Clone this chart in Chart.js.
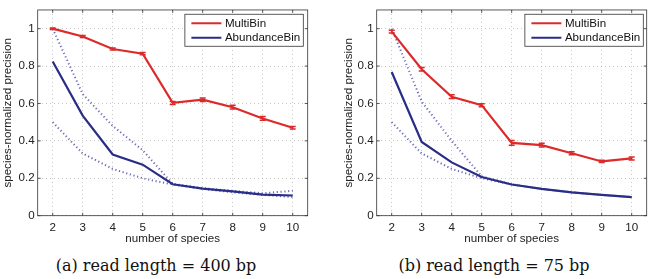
<!DOCTYPE html>
<html>
<head>
<meta charset="utf-8">
<script src="https://cdn.jsdelivr.net/npm/chart.js@4.4.1/dist/chart.umd.min.js"></script>
<style>
  html, body { margin: 0; padding: 0; background: #fff; }
  body { width: 650px; height: 279px; position: relative; overflow: hidden; }
  .panel { position: absolute; top: 0; width: 325px; height: 250px; }
  .caption { position: absolute; top: 256px; width: 260px; text-align: center;
             font-family: "DejaVu Serif", "Liberation Serif", serif; font-size: 16px; color: #111; }
</style>
</head>
<body>
<div class="panel" style="left:0"><canvas id="chartA" width="325" height="250"></canvas></div>
<div class="panel" style="left:325px"><canvas id="chartB" width="325" height="250"></canvas></div>
<div class="caption" style="left:26px">(a) read length = 400 bp</div>
<div class="caption" style="left:364px">(b) read length = 75 bp</div>
<script>
// ---------- data ----------
const speciesCounts = ['2','3','4','5','6','7','8','9','10'];
const yTicks = [0, 0.2, 0.4, 0.6, 0.8, 1];
const yTickLabels = ['0', '0.2', '0.4', '0.6', '0.8', '1'];
const seriesNames = ['MultiBin', 'AbundanceBin'];

// (a) read length = 400 bp
const multiBinA = [1.0, 0.958, 0.891, 0.866, 0.603, 0.62, 0.58, 0.52, 0.47];
const multiBinErrA = [0.004, 0.005, 0.005, 0.006, 0.008, 0.009, 0.01, 0.01, 0.007];
const abundanceBinA = [0.824, 0.535, 0.327, 0.273, 0.168, 0.145, 0.13, 0.113, 0.108];
const upperBoundA = [1.0, 0.65, 0.48, 0.35, 0.17, 0.148, 0.133, 0.12, 0.133];
const lowerBoundA = [0.5, 0.333, 0.25, 0.2, 0.167, 0.143, 0.125, 0.111, 0.1];

// (b) read length = 75 bp
const multiBinB = [0.984, 0.783, 0.636, 0.591, 0.389, 0.377, 0.334, 0.29, 0.306];
const multiBinErrB = [0.007, 0.01, 0.01, 0.008, 0.013, 0.01, 0.008, 0.006, 0.008];
const abundanceBinB = [0.768, 0.394, 0.285, 0.207, 0.167, 0.143, 0.125, 0.111, 0.099];
const upperBoundB = [1.0, 0.61, 0.40, 0.21, 0.168, 0.143, 0.125, 0.111, 0.1];
const lowerBoundB = [0.5, 0.333, 0.25, 0.2, 0.167, 0.143, 0.125, 0.111, 0.1];

// ---------- styles ----------
const RED = '#dc2a2a';
const NAVY = '#2a2d85';
const DOTTED = 'rgba(70,72,170,0.8)';
const SANS = '"Liberation Sans", Arial, Helvetica, sans-serif';

// plot frame, inward ticks and error bars
const framePlugin = {
  id: 'frame',
  afterDatasetsDraw(chart) {
    const {ctx, chartArea: a, scales} = chart;
    ctx.save();
    // error bars for datasets with errors
    chart.data.datasets.forEach((ds, i) => {
      if (!ds.errors) return;
      ctx.strokeStyle = ds.borderColor;
      ctx.lineWidth = 1.5;
      ds.data.forEach((v, j) => {
        const x = scales.x.getPixelForValue(j);
        const y1 = scales.y.getPixelForValue(v - ds.errors[j]);
        const y2 = scales.y.getPixelForValue(v + ds.errors[j]);
        ctx.beginPath();
        ctx.moveTo(x, y1); ctx.lineTo(x, y2);
        ctx.moveTo(x - 3, y1); ctx.lineTo(x + 3, y1);
        ctx.moveTo(x - 3, y2); ctx.lineTo(x + 3, y2);
        ctx.stroke();
      });
    });
    ctx.strokeStyle = '#333';
    ctx.lineWidth = 0.8;
    ctx.strokeRect(a.left, a.top, a.right - a.left, a.bottom - a.top);
    ctx.beginPath();
    scales.x.ticks.forEach((t, j) => {
      const x = scales.x.getPixelForTick(j);
      ctx.moveTo(x, a.bottom); ctx.lineTo(x, a.bottom - 3);
      ctx.moveTo(x, a.top); ctx.lineTo(x, a.top + 3);
    });
    scales.y.ticks.forEach((t, j) => {
      const y = scales.y.getPixelForTick(j);
      ctx.moveTo(a.left, y); ctx.lineTo(a.left + 3, y);
      ctx.moveTo(a.right, y); ctx.lineTo(a.right - 3, y);
    });
    ctx.stroke();
    ctx.restore();
  }
};

// boxed legend inside the plot, top-right
const boxLegendPlugin = {
  id: 'boxLegend',
  afterDraw(chart, args, opts) {
    const {ctx, chartArea: a} = chart;
    const items = chart.data.datasets.filter(d => d.inLegend);
    ctx.save();
    ctx.font = '11.6px ' + SANS;
    const textW = Math.max(...items.map(d => ctx.measureText(d.label).width));
    const padL = 6.5, lineLen = 30, gap = 3.5, padR = 3;
    const rowH = 14.5;
    const w = padL + lineLen + gap + textW + padR;
    const h = 32;
    const x = a.right - opts.inset - w;
    const y = a.top + 4.3;
    ctx.fillStyle = '#fff';
    ctx.fillRect(x, y, w, h);
    ctx.strokeStyle = '#333';
    ctx.lineWidth = 0.8;
    ctx.strokeRect(x, y, w, h);
    items.forEach((d, i) => {
      const cy = y + 9 + i * rowH;
      ctx.strokeStyle = d.borderColor;
      ctx.lineWidth = 2;
      ctx.beginPath();
      ctx.moveTo(x + padL, cy); ctx.lineTo(x + padL + lineLen, cy);
      ctx.stroke();
      ctx.fillStyle = '#111';
      ctx.textBaseline = 'middle';
      ctx.textAlign = 'left';
      ctx.fillText(d.label, x + padL + lineLen + gap, cy + 0.5);
    });
    ctx.restore();
  }
};

function makeChart(id, multi, multiErr, abund, upper, lower, opt) {
  return new Chart(document.getElementById(id), {
    type: 'line',
    data: {
      labels: speciesCounts,
      datasets: [
        { label: seriesNames[0], data: multi, errors: multiErr, inLegend: true,
          borderColor: RED, borderWidth: 2.2, pointRadius: 0, tension: 0 },
        { label: seriesNames[1], data: abund, inLegend: true,
          borderColor: NAVY, borderWidth: 2.2, pointRadius: 0, tension: 0 },
        { label: 'upper', data: upper, borderColor: DOTTED, borderWidth: 2,
          borderDash: [1.2, 2.6], pointRadius: 0, tension: 0 },
        { label: 'lower', data: lower, borderColor: DOTTED, borderWidth: 2,
          borderDash: [1.2, 2.6], pointRadius: 0, tension: 0 }
      ]
    },
    options: {
      responsive: false,
      animation: false,
      events: [],
      layout: { padding: { left: opt.padLeft, right: opt.padRight, top: 2.7, bottom: 0 } },
      plugins: {
        legend: { display: false },
        tooltip: { enabled: false },
        boxLegend: { inset: opt.legendInset }
      },
      scales: {
        x: {
          type: 'category',
          offset: true,
          grid: { color: '#b8b8b8', lineWidth: 0.8, drawTicks: false, offset: false },
          border: { display: false, dash: [1, 3] },
          ticks: { color: '#222', font: { family: SANS, size: 11.6 }, padding: 5, maxRotation: 0 },
          title: { display: true, text: 'number of species', color: '#222',
                   font: { family: SANS, size: 11.6 }, padding: { top: 0, bottom: 4 } },
          afterFit(s) { s.height = 34.3; }
        },
        y: {
          min: 0, max: 1.1,
          afterBuildTicks(s) { s.ticks = yTicks.map(v => ({ value: v })); },
          grid: { color: '#b8b8b8', lineWidth: 0.8, drawTicks: false },
          border: { display: false, dash: [1, 3] },
          ticks: { color: '#222', font: { family: SANS, size: 11.6 }, padding: 3,
                   callback(v) { const k = yTicks.indexOf(v); return k >= 0 ? yTickLabels[k] : ''; } },
          title: { display: true, text: 'species-normalized precision', color: '#222',
                   font: { family: SANS, size: 11.6 }, padding: { top: 0, bottom: 0 } },
          afterFit(s) { s.width = opt.yWidth; }
        }
      }
    },
    plugins: [framePlugin, boxLegendPlugin]
  });
}

makeChart('chartA', multiBinA, multiBinErrA, abundanceBinA, upperBoundA, lowerBoundA,
  { padLeft: 1, padRight: 17.3, yWidth: 36.7, legendInset: 4.4 });
makeChart('chartB', multiBinB, multiBinErrB, abundanceBinB, upperBoundB, lowerBoundB,
  { padLeft: 17, padRight: 3.3, yWidth: 34.7, legendInset: 3.4 });
</script>
</body>
</html>
